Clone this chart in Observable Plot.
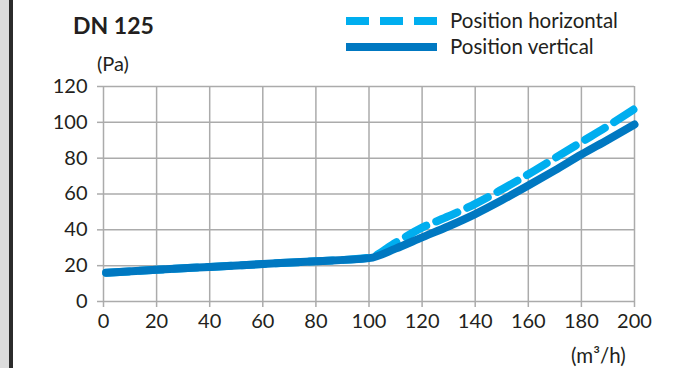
<!DOCTYPE html>
<html><head><meta charset="utf-8">
<script src="https://cdn.jsdelivr.net/npm/d3@7"></script>
<script src="https://cdn.jsdelivr.net/npm/@observablehq/plot@0.6"></script>
<style>
html,body{margin:0;padding:0;background:#fff;}
#wrap{position:relative;width:684px;height:368px;overflow:hidden;font-family:Lato,"Open Sans",sans-serif;color:#231f20;}
#chart{position:absolute;left:0;top:0;}
#overlay{position:absolute;left:0;top:0;}
#strip{position:absolute;left:0;top:0;width:9px;height:368px;background:#dcdcdc;}
#rule{position:absolute;left:9px;top:0;width:3.5px;height:368px;background:#2b2b2b;}
</style></head><body>
<div id="wrap"><div id="chart"></div><svg id="overlay" width="684" height="368"></svg><div id="strip"></div><div id="rule"></div></div>
<script>
const title = "DN 125";
const yUnit = "(Pa)";
const xUnit = "(m³/h)";
const seriesNames = ["Position horizontal", "Position vertical"];
const seriesColors = ["#00aeef", "#0078c1"];
const xTicks = [0, 20, 40, 60, 80, 100, 120, 140, 160, 180, 200];
const yTicks = [0, 20, 40, 60, 80, 100, 120];
const flow = [1, 20, 40, 60, 80, 100, 110, 120, 130, 140, 150, 160, 170, 180, 190, 200];
const pHorizontal = [16, 17.7, 19.3, 20.9, 22.5, 24.4, 32.8, 41.2, 47.6, 54.5, 62.5, 71, 80, 89, 98, 107.5];
const pVertical = [16, 17.7, 19.3, 20.9, 22.5, 24.2, 29.5, 35.8, 42, 48.8, 56.5, 64.7, 73.2, 82, 90.3, 98.8];

const dataH = flow.map((f, i) => ({f, p: pHorizontal[i]}));
const dataV = flow.map((f, i) => ({f, p: pVertical[i]}));
const gridColor = "#ababab";
const font = "Lato, 'Open Sans', sans-serif";

const chart = Plot.plot({
  width: 684, height: 368,
  marginLeft: 103, marginRight: 50, marginTop: 86, marginBottom: 67,
  style: {fontFamily: font, fontSize: "20px", color: "#231f20", background: "transparent"},
  x: {domain: [0, 200]},
  y: {domain: [0, 120]},
  marks: [
    Plot.ruleX(xTicks, {stroke: gridColor, strokeWidth: 1.5}),
    Plot.ruleY(yTicks, {stroke: gridColor, strokeWidth: 1.5}),
    Plot.axisX({ticks: xTicks, tickSize: 6, tickPadding: 6, stroke: gridColor, strokeWidth: 1.5, label: null, fontSize: 20}),
    Plot.axisY({ticks: yTicks, tickSize: 6, tickPadding: 10, stroke: gridColor, strokeWidth: 1.5, label: null, fontSize: 20}),
    Plot.line(dataH, {x: "f", y: "p", stroke: seriesColors[0], strokeWidth: 8, strokeDasharray: "23,11", curve: "monotone-x"}),
    Plot.line(dataV, {x: "f", y: "p", stroke: seriesColors[1], strokeWidth: 8, curve: "monotone-x"})
  ]
});
document.getElementById("chart").appendChild(chart);

const ov = d3.select("#overlay").style("font-family", font).attr("fill", "#231f20");
ov.append("text").attr("x", 73).attr("y", 34).attr("font-size", 23).attr("font-weight", "bold").text(title);
ov.append("text").attr("x", 97).attr("y", 71).attr("font-size", 20).text(yUnit);
ov.append("text").attr("x", 571).attr("y", 363).attr("font-size", 20.5).text(xUnit);
const legY = [21, 47];
seriesNames.forEach((name, i) => {
  ov.append("line").attr("x1", 346).attr("x2", 437).attr("y1", legY[i]).attr("y2", legY[i])
    .attr("stroke", seriesColors[i]).attr("stroke-width", 8).attr("stroke-dasharray", i === 0 ? "23,11" : null);
  ov.append("text").attr("x", 450).attr("y", legY[i] + 6.5).attr("font-size", 20.5).text(name);
});
</script>
</body></html>
